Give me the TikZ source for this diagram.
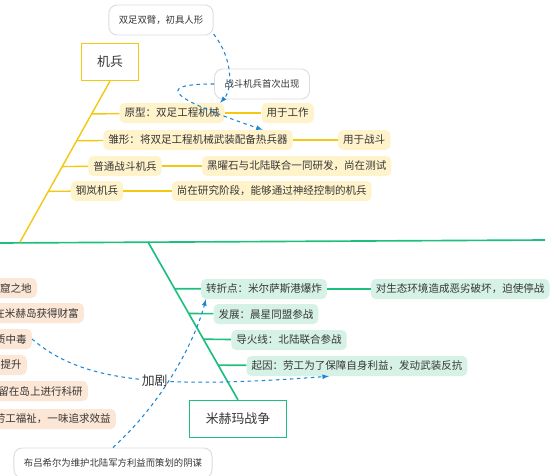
\documentclass[tikz,border=0pt]{standalone}
\usepackage{fontspec}
\setmainfont{Noto Sans CJK SC}
\usetikzlibrary{positioning, arrows}
\definecolor{jbline}{HTML}{F2C811}
\definecolor{jbfill}{HTML}{FFF3CC}
\definecolor{warline}{HTML}{1CBF7E}
\definecolor{warfill}{HTML}{D6F2E6}
\definecolor{oldfill}{HTML}{FCE7D6}
\definecolor{linkblue}{HTML}{1B86D6}
\definecolor{notegray}{HTML}{DDDDDD}
\definecolor{txt}{HTML}{363636}

\begin{document}
\begin{tikzpicture}[x=0.03cm, y=-0.03cm,
     node distance = 1.2cm and 1.2cm,
     font = \fontsize{9}{10}\selectfont, text=txt,
     topic/.style = {rectangle, draw, line width=1.4pt, fill=white, minimum width=17mm, minimum height=11mm, font=\fontsize{11}{12}\selectfont},
     jbtopic/.style = {topic, draw=jbline},
     wartopic/.style = {topic, draw=warline, minimum width=29mm},
     note/.style = {rectangle, rounded corners=2.5mm, draw=notegray, line width=0.8pt, fill=white, minimum height=9mm, inner xsep=3mm, font=\fontsize{8}{9}\selectfont},
     jbsub/.style = {rectangle, rounded corners=1.5mm, fill=jbfill, inner xsep=1.5mm, minimum height=6mm},
     warsub/.style = {jbsub, fill=warfill},
     oldsub/.style = {jbsub, fill=oldfill, anchor=east},
     jbedge/.style = {draw=jbline, line width=1.2pt},
     waredge/.style = {draw=warline, line width=1.4pt},
     link/.style = {draw=linkblue, dashed, line width=0.9pt, -latex}
                        ]
\clip (0,0) rectangle (554,476);
\fill[white] (0,0) rectangle (554,476);
% main line
\coordinate (ml) at (0,243);
\coordinate (mr) at (545,240);
\coordinate (yj) at (20,242);
\coordinate (gj) at (148,242);
\draw[waredge] (ml) -- (mr);
% jibing
\node (jb) [jbtopic] at (110,62) {机兵};
\node (y1) [jbsub] at (172,113) {原型：双足工程机械};
\node (y1r) [jbsub,right=1.1cm of y1] {用于工作};
\node (y2) [jbsub] at (198,140) {雏形：将双足工程机械武装配备热兵器};
\node (y2r) [jbsub,right=1.35cm of y2] {用于战斗};
\node (y3) [jbsub] at (125,166) {普通战斗机兵};
\node (y3r) [jbsub,right=1.2cm of y3] {黑曜石与北陆联合一同研发，尚在测试};
\node (y4) [jbsub] at (97,191) {钢岚机兵};
\node (y4r) [jbsub,right=1.45cm of y4] {尚在研究阶段，能够通过神经控制的机兵};
\draw[jbedge] (jb.south) -- (yj)
   coordinate[pos=0.204] (s1) coordinate[pos=0.37] (s2)
   coordinate[pos=0.531] (s3) coordinate[pos=0.685] (s4);
\draw[jbedge] (s1) -- (y1);
\draw[jbedge] (s2) -- (y2);
\draw[jbedge] (s3) -- (y3);
\draw[jbedge] (s4) -- (y4);
\draw[jbedge] (y1) -- (y1r);
\draw[jbedge] (y2) -- (y2r);
\draw[jbedge] (y3) -- (y3r);
\draw[jbedge] (y4) -- (y4r);
\node (note1) [note] at (161,20) {双足双臂，初具人形};
\node (note2) [note] at (262,84) {战斗机兵首次出现};
\draw[link] (note1.-15) .. controls (234,60) and (232,90) .. (y1.12);
\draw[link] (note2.west) .. controls (150,84) and (175,100) .. (y2.9);
% war
\node (war) [wartopic] at (238,419) {米赫玛战争};
\node (g1) [warsub] at (264,289) {转折点：米尔萨斯港爆炸};
\node (g1r) [warsub,right=1.3cm of g1] {对生态环境造成恶劣破坏，迫使停战};
\node (g2) [warsub] at (266,314) {发展：晨星同盟参战};
\node (g3) [warsub] at (289,340) {导火线：北陆联合参战};
\node (g4) [warsub] at (357,366) {起因：劳工为了保障自身利益，发动武装反抗};
\draw[waredge] (gj) -- (war.north)
   coordinate[pos=0.296] (t1) coordinate[pos=0.453] (t2)
   coordinate[pos=0.616] (t3) coordinate[pos=0.78] (t4);
\draw[waredge] (t1) -- (g1);
\draw[waredge] (t2) -- (g2);
\draw[waredge] (t3) -- (g3);
\draw[waredge] (t4) -- (g4);
\draw[waredge] (g1) -- (g1r);
% cut-off branch on the left
\node (p1) [oldsub] at (37,288) {窟之地};
\node (p2) [oldsub] at (84,313) {在米赫岛获得财富};
\node (p3) [oldsub] at (32,339) {质中毒};
\node (p4) [oldsub] at (27,365) {提升};
\node (p5) [oldsub] at (88,391) {留在岛上进行科研};
\node (p6) [oldsub] at (116,419) {劳工福祉，一味追求效益};
\node (note3) [note] at (113,463) {布吕希尔为维护北陆军方利益而策划的阴谋};
\draw[link] (p3.east) .. controls (80,380) and (150,390) .. (g4.200)
   node[pos=0.58, fill=white, inner sep=1pt, font=\fontsize{11}{12}\selectfont] (jiaju) {加剧};
\draw[link] (note3.north) .. controls (165,400) and (195,340) .. (g1.-170);
\end{tikzpicture}
\end{document}
